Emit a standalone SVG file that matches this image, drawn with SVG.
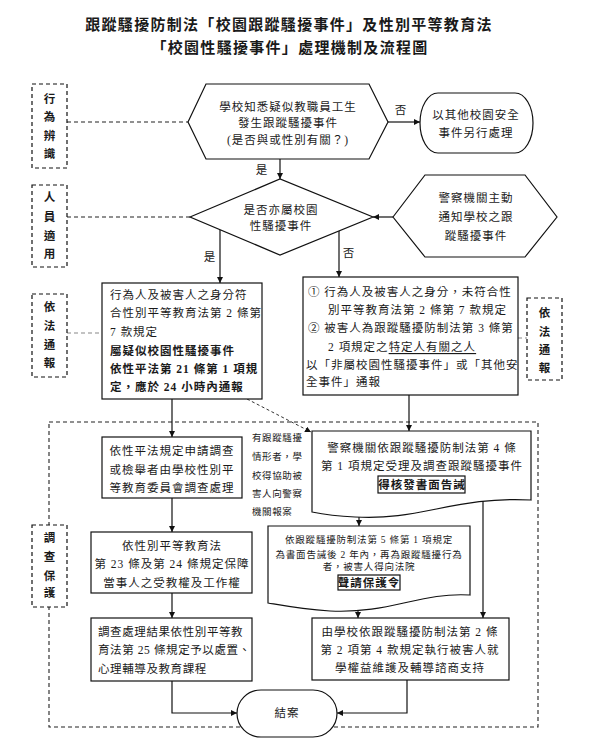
<svg xmlns="http://www.w3.org/2000/svg" width="590" height="742" viewBox="0 0 590 742">
<defs>
<marker id="ah" viewBox="0 0 8 8" refX="8" refY="4" markerWidth="6" markerHeight="6" orient="auto" markerUnits="userSpaceOnUse">
<path d="M0,0 L8,4 L0,8 Z" fill="#111"/>
</marker>
<style>
.t{font-family:"Liberation Serif","Noto Sans CJK TC",serif;font-size:11.5px;fill:#1a1a1a;dominant-baseline:central;letter-spacing:1px}
.c{text-anchor:middle}
.b{font-weight:bold}
.sm{font-size:9.5px;letter-spacing:0.8px}
.side{font-size:9.5px;letter-spacing:0.6px}
.tight{letter-spacing:0.6px}
.ttl{font-size:15px;font-weight:bold;letter-spacing:1.3px;text-anchor:middle}
.lab{font-size:11.5px;font-weight:bold;text-anchor:middle}
.box{fill:#fff;stroke:#111;stroke-width:1.2}
.dbox{fill:#fff;stroke:#111;stroke-width:1.2;stroke-dasharray:4 3}
.ln{fill:none;stroke:#111;stroke-width:1.2}
.dl{fill:none;stroke:#222;stroke-width:1.1;stroke-dasharray:4 3}
.gl{fill:none;stroke:#888;stroke-width:1.2;stroke-dasharray:4 3}
.ib{fill:none;stroke:#111;stroke-width:1.2}
</style>
</defs>
<rect width="590" height="742" fill="#fff"/>

<g id="title">
<text class="t ttl" x="289" y="25">跟蹤騷擾防制法「校園跟蹤騷擾事件」及性別平等教育法</text>
<text class="t ttl" x="290" y="48">「校園性騷擾事件」處理機制及流程圖</text>
</g>

<g id="frame">
<rect class="dl" x="49" y="422" width="489" height="305"/>
</g>

<g id="connectors">
<path class="dl" d="M67,122 H188"/>
<path class="dl" d="M67,217 H190"/>
<path class="gl" d="M67,333 H102"/>
<path class="gl" d="M518,338 H527"/>
<path class="ln" d="M280,159 V179" marker-end="url(#ah)"/>
<path class="ln" d="M388,122 H420" marker-end="url(#ah)"/>
<path class="ln" d="M393,217 H373" marker-end="url(#ah)"/>
<path class="ln" d="M220,230 V283" marker-end="url(#ah)"/>
<path class="ln" d="M339,231 V277" marker-end="url(#ah)"/>
<path class="ln" d="M172,399 V437" marker-end="url(#ah)"/>
<path fill="none" stroke="#333" stroke-width="1" stroke-dasharray="3 2.5" d="M247,399 L311,432" marker-end="url(#ah)"/>
<path class="ln" d="M409,395 V431" marker-end="url(#ah)"/>
<path class="ln" d="M172,498 V532" marker-end="url(#ah)"/>
<path class="ln" d="M172,593 V618" marker-end="url(#ah)"/>
<path class="ln" d="M172,681 V713 H237" marker-end="url(#ah)"/>
<path class="ln" d="M359,516 V526" marker-end="url(#ah)"/>
<path class="ln" d="M483,501 V618" marker-end="url(#ah)"/>
<path class="ln" d="M358,610 V618" marker-end="url(#ah)"/>
<path class="ln" d="M407,680 V713 H337" marker-end="url(#ah)"/>
<text class="t c" x="262" y="170">是</text>
<text class="t c" x="401" y="110">否</text>
<text class="t c" x="210" y="257">是</text>
<text class="t c" x="349" y="253">否</text>
</g>

<g id="label-identify">
<rect class="dbox" x="32" y="84" width="35" height="84"/>
<text class="t lab"><tspan x="50" y="99">行</tspan><tspan x="50" y="117">為</tspan><tspan x="50" y="136">辨</tspan><tspan x="50" y="154">識</tspan></text>
</g>
<g id="label-person">
<rect class="dbox" x="32" y="185" width="35" height="82"/>
<text class="t lab"><tspan x="50" y="197">人</tspan><tspan x="50" y="217">員</tspan><tspan x="50" y="236">適</tspan><tspan x="50" y="254">用</tspan></text>
</g>
<g id="label-report-left">
<rect class="dbox" x="32" y="294" width="35" height="83"/>
<text class="t lab"><tspan x="50" y="307">依</tspan><tspan x="50" y="326">法</tspan><tspan x="50" y="345">通</tspan><tspan x="50" y="363">報</tspan></text>
</g>
<g id="label-report-right">
<rect class="dbox" x="527" y="298" width="35" height="82"/>
<text class="t lab"><tspan x="545" y="313">依</tspan><tspan x="545" y="332">法</tspan><tspan x="545" y="350">通</tspan><tspan x="545" y="368">報</tspan></text>
</g>
<g id="label-investigate">
<rect class="dbox" x="32" y="525" width="35" height="82"/>
<text class="t lab"><tspan x="50" y="538">調</tspan><tspan x="50" y="557">查</tspan><tspan x="50" y="576">保</tspan><tspan x="50" y="593">護</tspan></text>
</g>

<g id="start">
<path class="box" d="M188,122 L206,84 H369 L388,122 L369,159 H206 Z"/>
<text class="t c" x="288" y="107">學校知悉疑似教職員工生</text>
<text class="t c" x="288" y="123">發生跟蹤騷擾事件</text>
<text class="t c" x="288" y="140">(是否與或性別有關？)</text>
</g>

<g id="other-safety">
<rect class="box" x="420" y="93" width="113" height="60" rx="18" ry="30"/>
<text class="t c" x="476" y="115">以其他校園安全</text>
<text class="t c" x="476" y="133">事件另行處理</text>
</g>

<g id="decision">
<path class="box" d="M190,217 L280,179 L373,217 L280,255 Z"/>
<text class="t c" x="281" y="210">是否亦屬校園</text>
<text class="t c" x="281" y="226">性騷擾事件</text>
</g>

<g id="police-notify">
<path class="box" d="M393,217 L425,175 H525 L557,217 L525,257 H425 Z"/>
<text class="t c" x="476" y="198">警察機關主動</text>
<text class="t c" x="476" y="217">通知學校之跟</text>
<text class="t c" x="476" y="236">蹤騷擾事件</text>
</g>

<g id="box-a">
<rect class="box" x="102" y="283" width="160" height="116"/>
<text class="t" x="110" y="295">行為人及被害人之身分符</text>
<text class="t" x="110" y="313">合性別平等教育法第 2 條第</text>
<text class="t" x="110" y="332">7 款規定</text>
<text class="t b" x="110" y="351">屬疑似校園性騷擾事件</text>
<text class="t b" x="110" y="369">依性平法第 21 條第 1 項規</text>
<text class="t b" x="110" y="387">定，應於 24 小時內通報</text>
</g>

<g id="box-b">
<rect class="box" x="303" y="277" width="215" height="118"/>
<text class="t" x="308" y="292">① 行為人及被害人之身分，未符合性</text>
<text class="t" x="328" y="310">別平等教育法第 2 條第 7 款規定</text>
<text class="t" x="308" y="328">② 被害人為跟蹤騷擾防制法第 3 條第</text>
<text class="t" x="328" y="347">2 項規定之<tspan style="text-decoration:underline">特定人有關之人</tspan></text>
<text class="t" x="306" y="365">以「非屬校園性騷擾事件」或「其他安</text>
<text class="t" x="306" y="382">全事件」通報</text>
</g>

<g id="box-c">
<rect class="box" x="102" y="437" width="140" height="61"/>
<text class="t c" x="172" y="451">依性平法規定申請調查</text>
<text class="t c" x="172" y="470">或檢舉者由學校性別平</text>
<text class="t c" x="172" y="488">等教育委員會調查處理</text>
</g>

<g id="side-note">
<text class="t side" x="252" y="438">有跟蹤騷擾</text>
<text class="t side" x="252" y="457">情形者，學</text>
<text class="t side" x="252" y="476">校得協助被</text>
<text class="t side" x="252" y="494">害人向警察</text>
<text class="t side" x="252" y="512">機關報案</text>
</g>

<g id="box-e">
<path class="box" d="M312,431 H531 V500 C455,496 420,521 355,517 C335,516 322,514 312,512 Z"/>
<text class="t c" x="422" y="448">警察機關依跟蹤騷擾防制法第 4 條</text>
<text class="t c" x="422" y="466">第 1 項規定受理及調查跟蹤騷擾事件</text>
<rect class="ib" x="378" y="476" width="87" height="17"/>
<text class="t c b" x="422" y="485">得核發書面告誡</text>
</g>

<g id="box-d">
<rect class="box" x="91" y="532" width="161" height="61"/>
<text class="t c" x="172" y="546">依性別平等教育法</text>
<text class="t c" x="172" y="564">第 23 條及第 24 條規定保障</text>
<text class="t c" x="172" y="583">當事人之受教權及工作權</text>
</g>

<g id="box-f">
<path class="box" d="M268,526 H470 V595 C420,592 390,614 330,611 C300,609 280,605 268,603 Z"/>
<text class="t c sm" x="369" y="540">依跟蹤騷擾防制法第 5 條第 1 項規定</text>
<text class="t c sm" x="369" y="555">為書面告誡後 2 年內，再為跟蹤騷擾行為</text>
<text class="t c sm" x="369" y="567">者，被害人得向法院</text>
<rect class="ib" x="338" y="575" width="62" height="15"/>
<text class="t c b" x="369" y="583">聲請保護令</text>
</g>

<g id="box-h">
<rect class="box" x="91" y="618" width="161" height="63"/>
<text class="t tight" x="98" y="632">調查處理結果依性別平等教</text>
<text class="t tight" x="98" y="650">育法第 25 條規定予以處置、</text>
<text class="t tight" x="98" y="669">心理輔導及教育課程</text>
</g>

<g id="box-g">
<rect class="box" x="312" y="618" width="197" height="62"/>
<text class="t c" x="410" y="632">由學校依跟蹤騷擾防制法第 2 條</text>
<text class="t c" x="410" y="650">第 2 項第 4 款規定執行被害人就</text>
<text class="t c" x="410" y="668">學權益維護及輔導諮商支持</text>
</g>

<g id="end">
<rect class="box" x="237" y="690" width="100" height="47" rx="24" ry="23.5"/>
<text class="t c" x="287" y="713">結案</text>
</g>
</svg>
